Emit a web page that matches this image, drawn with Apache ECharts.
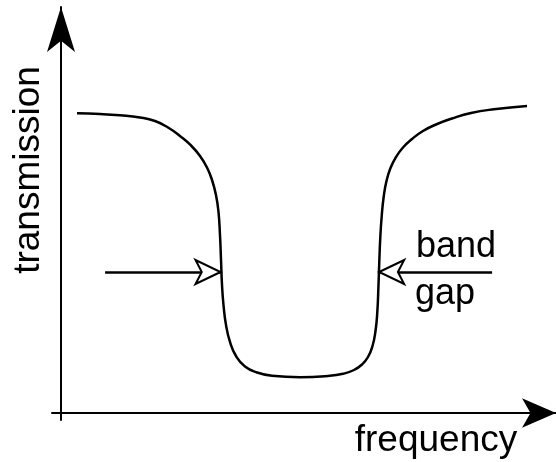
<!DOCTYPE html>
<html>
<head>
<meta charset="utf-8">
<script src="https://cdn.jsdelivr.net/npm/echarts@6/dist/echarts.min.js"></script>
<style>html,body{margin:0;padding:0;background:#fff;}#c{width:556px;height:462px;}</style>
</head>
<body>
<div id="c"></div>
<script>
// transmission curve: [frequency, transmission] (arbitrary units)
const frequency = [3.56, 8.67, 13.11, 17.56, 20.89, 23.78, 26.44, 28.89, 30.89, 32.44, 33.56, 34.44, 35.0, 35.33, 35.56, 35.78, 36.11, 36.67, 37.56, 38.89, 40.89, 43.56, 46.89, 53.11, 59.33, 62.67, 65.11, 66.89, 68.22, 69.22, 69.89, 70.29, 70.53, 70.73, 70.96, 71.29, 71.73, 72.33, 73.22, 74.44, 76.0, 78.0, 80.44, 83.33, 86.89, 91.11, 96.22, 103.56];
const transmission = [74.93, 74.75, 74.43, 73.88, 73.0, 71.38, 69.25, 66.88, 64.25, 61.38, 58.25, 54.5, 50.25, 44.5, 38.25, 32.0, 27.0, 22.0, 17.75, 14.25, 11.63, 10.13, 9.3, 8.95, 9.25, 9.8, 10.75, 12.13, 14.0, 16.75, 20.5, 25.25, 31.25, 37.75, 44.0, 49.5, 54.25, 58.0, 61.25, 64.0, 66.38, 68.5, 70.5, 72.13, 73.63, 75.0, 75.93, 76.75];
// band gap edge markers: [start x, end x], at level
const leftArrow = [9.8, 35.45];
const rightArrow = [95.8, 70.7];
const arrowLevel = 35.25;
const labels = { x: 'frequency', y: 'transmission', gap1: 'band', gap2: 'gap' };

const chart = echarts.init(document.getElementById('c'), null, { renderer: 'canvas' });
const font = '"Liberation Sans", Arial, Helvetica, sans-serif';
const data = frequency.map((f, i) => [f, transmission[i]]);

chart.setOption({
  animation: false,
  backgroundColor: '#fff',
  grid: { left: 52, right: 0, top: 7, bottom: 42 },
  xAxis: {
    type: 'value', min: -2, max: 110,
    axisLine: { show: true, onZero: true, lineStyle: { color: '#000', width: 2 },
      symbol: ['none', 'arrow'], symbolSize: [22, 34], symbolOffset: [0, 0] },
    axisTick: { show: false }, axisLabel: { show: false }, splitLine: { show: false }
  },
  yAxis: {
    type: 'value', min: -1.75, max: 101.5,
    axisLine: { show: true, onZero: true, lineStyle: { color: '#000', width: 2 },
      symbol: ['none', 'arrow'], symbolSize: [21, 45], symbolOffset: [0, 0] },
    axisTick: { show: false }, axisLabel: { show: false }, splitLine: { show: false }
  },
  series: [{
    type: 'line',
    data: data,
    smooth: 0.5,
    showSymbol: false,
    lineStyle: { color: '#000', width: 2.5 },
    markLine: {
      silent: true,
      symbol: ['none', 'emptyArrow'],
      symbolSize: [18, 25],
      label: { show: false },
      lineStyle: { color: '#000', width: 2.5, type: 'solid' },
      data: [
        [{ coord: [leftArrow[0], arrowLevel] }, { coord: [leftArrow[1], arrowLevel] }],
        [{ coord: [rightArrow[0], arrowLevel] }, { coord: [rightArrow[1], arrowLevel] }]
      ]
    }
  }],
  graphic: [
    { type: 'text', x: 436, y: 441, style: { text: labels.x, font: '37px ' + font, fill: '#000', align: 'center', verticalAlign: 'middle' } },
    { type: 'text', x: 29, y: 170, rotation: Math.PI / 2, style: { text: labels.y, font: '37px ' + font, fill: '#000', align: 'center', verticalAlign: 'middle' } },
    { type: 'text', x: 416, y: 247, style: { text: labels.gap1, font: '36px ' + font, fill: '#000', align: 'left', verticalAlign: 'middle' } },
    { type: 'text', x: 415, y: 294, style: { text: labels.gap2, font: '36px ' + font, fill: '#000', align: 'left', verticalAlign: 'middle' } }
  ]
});
</script>
</body>
</html>
